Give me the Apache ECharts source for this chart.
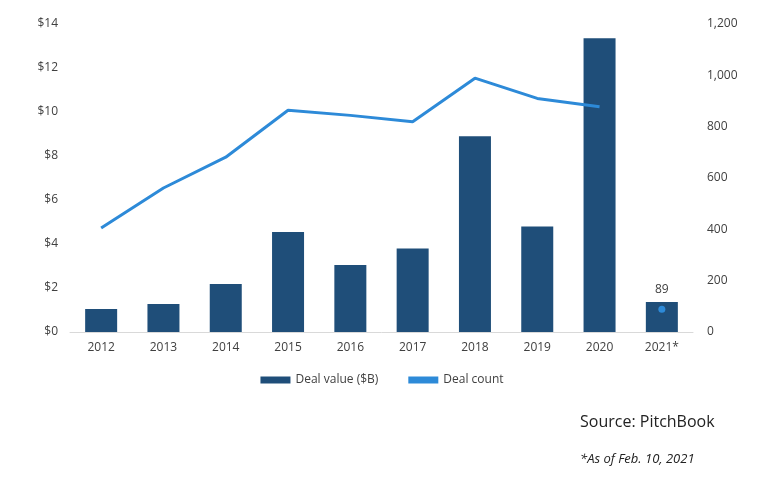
<!DOCTYPE html>
<html>
<head>
<meta charset="utf-8">
<script src="https://cdn.jsdelivr.net/npm/echarts@6/dist/echarts.min.js"></script>
<style>html,body{margin:0;padding:0;background:#fff}#chart{width:764px;height:481px}</style>
</head>
<body>
<div id="chart"></div>
<script>
var years = ['2012', '2013', '2014', '2015', '2016', '2017', '2018', '2019', '2020', '2021*'];
var dealValue = [1.05, 1.27, 2.18, 4.55, 3.05, 3.8, 8.9, 4.8, 13.35, 1.36];
var dealCount = [405, 561, 681, 864, 844, 819, 989, 910, 878, null];
var dealCount2021 = [null, null, null, null, null, null, null, null, null, 89];

var myChart = echarts.init(document.getElementById('chart'));
var font = 'Open Sans';
var option = {
    animation: false,
    textStyle: {fontFamily: font},
    grid: {left: 70, right: 71, top: 24, bottom: 149},
    legend: {
        bottom: 90, left: 'center', itemGap: 30,
        textStyle: {fontSize: 12, color: '#404040', fontFamily: font},
        data: [
            {name: 'Deal value ($B)', icon: 'rect', itemStyle: {color: '#1f4e79'}},
            {name: 'Deal count', icon: 'rect'}
        ],
        itemWidth: 30, itemHeight: 7
    },
    graphic: [
        {type: 'text', left: 580, top: 414, style: {text: 'Source: PitchBook', fontSize: 16, fill: '#222', fontFamily: font}},
        {type: 'text', left: 580, top: 453, style: {text: '*As of Feb. 10, 2021', fontSize: 13, fontStyle: 'italic', fill: '#222', fontFamily: font}}
    ],
    xAxis: {
        type: 'category', data: years,
        axisLine: {lineStyle: {color: '#d9d9d9'}},
        axisTick: {show: false},
        axisLabel: {color: '#404040', fontSize: 12, margin: 10}
    },
    yAxis: [{
        type: 'value', min: 0, max: 14, interval: 2,
        splitLine: {show: false},
        axisLabel: {formatter: '${value}', color: '#404040', fontSize: 12, margin: 12}
    }, {
        type: 'value', min: 0, max: 1200, interval: 200,
        splitLine: {show: false},
        axisLabel: {formatter: function (v) { return v.toLocaleString('en-US'); }, color: '#404040', fontSize: 12, margin: 14}
    }],
    series: [{
        name: 'Deal value ($B)', type: 'bar', data: dealValue, barWidth: 32,
        itemStyle: {color: '#1f4e79'}
    }, {
        name: 'Deal count', type: 'line', yAxisIndex: 1, data: dealCount,
        symbol: 'none', lineStyle: {color: '#2d8ad8', width: 3}, itemStyle: {color: '#2d8ad8'},
        label: {
            show: true, position: 'top', distance: 16, color: '#404040', fontSize: 12,
            formatter: function (p) { return p.value; }
        },
        labelLayout: {hideOverlap: false},
        z: 3
    }, {
        name: 'Deal count', type: 'line', yAxisIndex: 1, data: dealCount2021,
        symbol: 'circle', symbolSize: 7, showSymbol: true,
        itemStyle: {color: '#2d8ad8'},
        label: {show: true, position: 'top', distance: 10, color: '#404040', fontSize: 12},
        z: 3
    }]
};
option.series[1].data = dealCount.map(function (v, i) {
    if (i === 8) return {value: v, label: {color: '#fff'}};
    return v;
});
myChart.setOption(option);
</script>
</body>
</html>
